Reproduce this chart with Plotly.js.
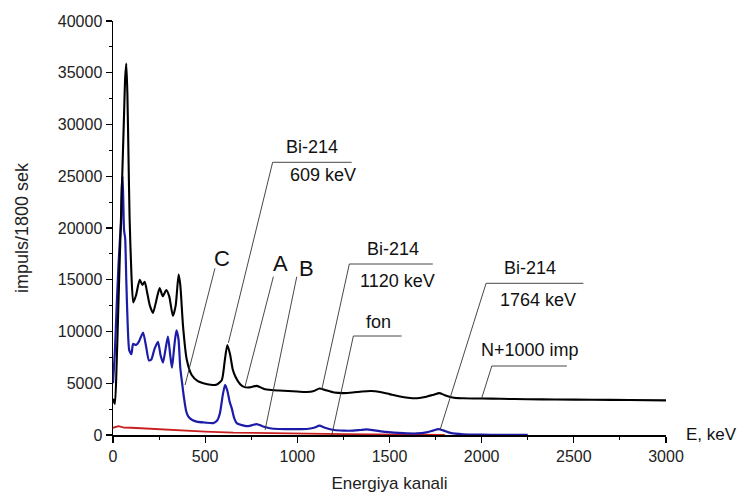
<!DOCTYPE html>
<html>
<head>
<meta charset="utf-8">
<script src="https://cdn.plot.ly/plotly-3.0.1.min.js"></script>
<style>html,body{margin:0;padding:0;background:#fff;}#chart{width:749px;height:497px;}</style>
</head>
<body>
<div id="chart"></div>
<script>
// ---- data ----
const blackX = [0, 10, 20, 30, 40, 50, 60, 66, 72, 78, 84, 90, 100, 110, 125, 145, 160, 172, 185, 200, 217, 235, 253, 270, 289, 305, 325, 340, 356, 365, 380, 400, 427, 460, 490, 530, 560, 590, 605, 620, 635, 650, 665, 690, 710, 740, 780, 820, 860, 900, 950, 1000, 1050, 1090, 1120, 1150, 1200, 1250, 1300, 1350, 1400, 1450, 1500, 1550, 1600, 1650, 1700, 1740, 1770, 1800, 1850, 1900, 2000, 2100, 2250, 2400, 2600, 2800, 3000];
const blackY = [3500, 3000, 7000, 13000, 19000, 25000, 31000, 34500, 35900, 33000, 27000, 21000, 15500, 12800, 13500, 15000, 14500, 14800, 13800, 12500, 11800, 13000, 14200, 13400, 14000, 13400, 11500, 12500, 15500, 14500, 10500, 7300, 5800, 5200, 5000, 4850, 4850, 5300, 7000, 8700, 7800, 6300, 5600, 4900, 4650, 4600, 4750, 4450, 4350, 4300, 4250, 4200, 4150, 4250, 4500, 4350, 4100, 4050, 4100, 4200, 4250, 4150, 3950, 3750, 3600, 3550, 3700, 3900, 4050, 3850, 3600, 3550, 3520, 3500, 3450, 3430, 3400, 3380, 3350];

const blueX = [0, 10, 20, 30, 38, 44, 48, 52, 56, 60, 66, 72, 80, 88, 100, 109, 125, 140, 163, 180, 195, 208, 225, 244, 258, 271, 285, 298, 310, 320, 332, 344, 355, 365, 375, 385, 397, 409, 430, 454, 500, 544, 565, 580, 595, 608, 620, 633, 644, 658, 671, 700, 725, 755, 780, 810, 852, 900, 950, 1000, 1050, 1090, 1120, 1150, 1200, 1250, 1304, 1340, 1376, 1420, 1480, 1575, 1648, 1700, 1740, 1765, 1790, 1830, 1900, 2000, 2100, 2250];
const blueY = [5000, 8000, 12500, 16500, 19000, 20500, 24000, 25000, 22500, 19800, 19000, 15000, 10500, 8200, 7800, 8800, 8700, 9000, 9900, 8500, 7200, 7300, 8300, 9000, 7700, 7000, 8300, 9500, 7800, 6500, 8500, 10100, 9300, 6500, 5000, 3600, 2300, 1770, 1450, 1290, 1200, 1150, 1400, 2100, 3800, 4850, 4300, 3200, 2600, 1600, 1150, 950, 850, 950, 1060, 850, 650, 580, 560, 560, 580, 700, 900, 700, 480, 420, 420, 480, 550, 450, 300, 180, 150, 250, 450, 560, 450, 200, 60, 30, 20, 10];

const redX = [0, 15, 30, 45, 60, 100, 150, 200, 291, 400, 500, 652, 800, 950, 1105, 1250, 1400, 1550, 1700, 1800];
const redY = [700, 780, 850, 780, 720, 700, 650, 600, 500, 420, 330, 230, 180, 140, 110, 90, 70, 50, 30, 20];

const xTickVals = [0, 500, 1000, 1500, 2000, 2500, 3000];
const yTickVals = [0, 5000, 10000, 15000, 20000, 25000, 30000, 35000, 40000];

// annotation labels: text, x, y (data units), font size
const labelTexts = ["Bi-214", "609 keV", "C", "A", "B", "Bi-214", "1120 keV", "fon", "Bi-214", "1764 keV", "N+1000 imp"];
const labelX = [1078, 1141, 590, 906, 1051, 1521, 1544, 1442, 2263, 2303, 2263];
const labelY = [27855, 25121, 17072, 16590, 16106, 17942, 14908, 10947, 16106, 13043, 8213];
const labelSize = [18, 18, 22, 22, 22, 18, 18, 18, 18, 18, 18];

// leader lines (x0, y0, x1, y1) in data units
const leaderX0 = [866, 866, 553, 870, 997, 1282, 1282, 1304, 1304, 2024, 2024, 2055, 2055];
const leaderY0 = [26348, 26348, 16106, 15295, 15295, 16522, 16522, 9565, 9565, 14657, 14657, 6667, 6667];
const leaderX1 = [1295, 626, 391, 716, 825, 1735, 1132, 1566, 1187, 2552, 1774, 2462, 2000];
const leaderY1 = [26348, 8900, 4830, 4667, 483, 16522, 4348, 9565, 0, 14657, 483, 6667, 3546];

// ---- chart ----
const FONT = "Liberation Sans, Arial, sans-serif";

const traces = [
  {x: redX, y: redY, type: "scatter", mode: "lines", line: {color: "#c81e1e", width: 1.8}, hoverinfo: "skip"},
  {x: blueX, y: blueY, type: "scatter", mode: "lines", line: {color: "#1c1ca8", width: 2.2, shape: "spline", smoothing: 0.6}, hoverinfo: "skip"},
  {x: blackX, y: blackY, type: "scatter", mode: "lines", line: {color: "#000000", width: 2.1, shape: "spline", smoothing: 0.6}, hoverinfo: "skip"}
];

const shapes = leaderX0.map((x0, i) => ({
  type: "line", xref: "x", yref: "y",
  x0: x0, y0: leaderY0[i], x1: leaderX1[i], y1: leaderY1[i],
  line: {color: "#333", width: 0.9}
}));

const annotations = labelTexts.map((t, i) => ({
  text: t, x: labelX[i], y: labelY[i], xref: "x", yref: "y",
  showarrow: false, xanchor: "center", yanchor: "middle",
  font: {family: FONT, size: labelSize[i], color: "#111"}
}));
annotations.push({
  text: "E, keV", x: 3000, y: 0, xref: "x", yref: "y", showarrow: false,
  xanchor: "left", yanchor: "middle", xshift: 18, yshift: 1,
  font: {family: FONT, size: 17, color: "#111"}
});

const layout = {
  width: 749, height: 497,
  margin: {l: 113, r: 83, t: 21, b: 62, pad: 0},
  paper_bgcolor: "#ffffff", plot_bgcolor: "#ffffff",
  showlegend: false,
  font: {family: FONT, color: "#222"},
  xaxis: {
    range: [0, 3000], tickvals: xTickVals, ticktext: xTickVals.map(String),
    showline: true, linecolor: "#000", linewidth: 1.5, mirror: false,
    ticks: "outside", ticklen: 6, tickwidth: 1.2, tickcolor: "#000",
    minor: {dtick: 250, tick0: 0, ticks: "outside", ticklen: 3, tickwidth: 1, tickcolor: "#000", showgrid: false},
    showgrid: false, zeroline: false,
    tickfont: {family: FONT, size: 16, color: "#222"},
    title: {text: "Energiya kanali", font: {family: FONT, size: 17, color: "#222"}, standoff: 13}
  },
  yaxis: {
    range: [0, 40000], tickvals: yTickVals, ticktext: yTickVals.map(String),
    showline: true, linecolor: "#000", linewidth: 1.5, mirror: false,
    ticks: "outside", ticklen: 6, tickwidth: 1.2, tickcolor: "#000",
    minor: {dtick: 2500, tick0: 0, ticks: "outside", ticklen: 3, tickwidth: 1, tickcolor: "#000", showgrid: false},
    showgrid: false, zeroline: false,
    tickfont: {family: FONT, size: 16, color: "#222"},
    title: {text: "impuls/1800 sek", font: {family: FONT, size: 18, color: "#222"}, standoff: 24}
  },
  shapes: shapes,
  annotations: annotations
};

Plotly.newPlot("chart", traces, layout, {staticPlot: true, displayModeBar: false});
</script>
</body>
</html>
